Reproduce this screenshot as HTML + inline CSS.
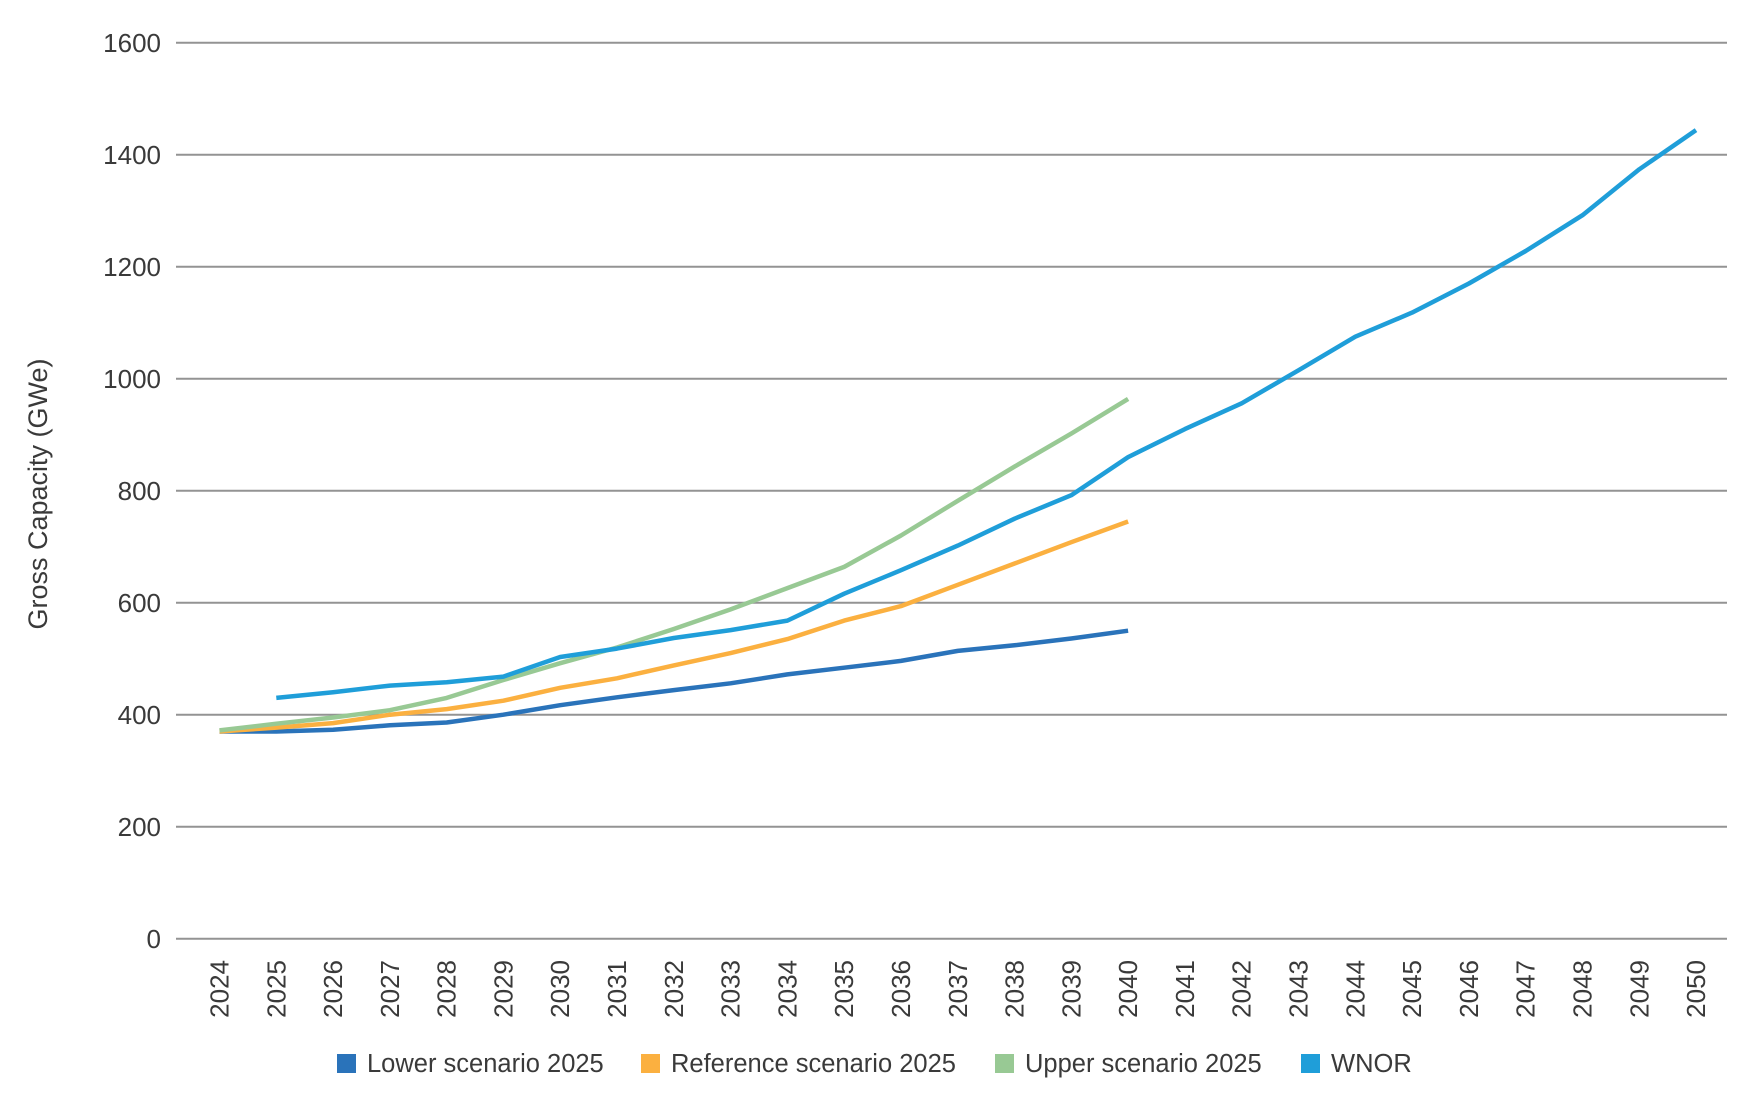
<!DOCTYPE html>
<html><head><meta charset="utf-8"><style>
html,body{margin:0;padding:0;background:#fff;}
svg{display:block;font-family:"Liberation Sans",Arial,sans-serif;}
</style></head><body>
<svg width="1764" height="1109" viewBox="0 0 1764 1109" xmlns="http://www.w3.org/2000/svg">
<g stroke="#939393" stroke-width="2">
<line x1="176" x2="1727" y1="42.7" y2="42.7"/>
<line x1="176" x2="1727" y1="154.7" y2="154.7"/>
<line x1="176" x2="1727" y1="266.7" y2="266.7"/>
<line x1="176" x2="1727" y1="378.7" y2="378.7"/>
<line x1="176" x2="1727" y1="490.7" y2="490.7"/>
<line x1="176" x2="1727" y1="602.7" y2="602.7"/>
<line x1="176" x2="1727" y1="714.7" y2="714.7"/>
<line x1="176" x2="1727" y1="826.7" y2="826.7"/>
<line x1="176" x2="1727" y1="938.7" y2="938.7"/>
</g>
<g font-size="26" fill="#3a3a3a" text-anchor="end">
<text x="161" y="52">1600</text><text x="161" y="164">1400</text><text x="161" y="276">1200</text>
<text x="161" y="388">1000</text><text x="161" y="500">800</text><text x="161" y="612">600</text>
<text x="161" y="724">400</text><text x="161" y="836">200</text><text x="161" y="948">0</text>
</g>
<text transform="translate(47,494) rotate(-90)" font-size="27" fill="#3a3a3a" text-anchor="middle">Gross Capacity (GWe)</text>
<g id="xl" font-size="26" fill="#3a3a3a" text-anchor="end"></g>
<g fill="none" stroke-width="4.5" stroke-linejoin="round" id="lines"></g>
<g font-size="25.5" fill="#3a3a3a">
<rect x="337" y="1054" width="19" height="19" fill="#2a73ba"/><text x="367" y="1072">Lower scenario 2025</text>
<rect x="641" y="1054" width="19" height="19" fill="#fbb040"/><text x="671" y="1072">Reference scenario 2025</text>
<rect x="995" y="1054" width="19" height="19" fill="#98c994"/><text x="1025" y="1072">Upper scenario 2025</text>
<rect x="1301" y="1054" width="19" height="19" fill="#1f9ed9"/><text x="1331" y="1072">WNOR</text>
</g>
<script>
var ns="http://www.w3.org/2000/svg";
function X(i){return 219.5+i*56.79;}
function Y(v){return 938.7-v*0.56;}
var xl=document.getElementById('xl');
for(var i=0;i<27;i++){var t=document.createElementNS(ns,'text');t.setAttribute('transform','translate('+(X(i)+9)+',960) rotate(-90)');t.textContent=2024+i;xl.appendChild(t);}
var S=[
["#2a73ba",0,[370,370,373,381,386,400,417,431,444,456,472,484,496,514,524,536,550]],
["#fbb040",0,[370,377,385,400,410,425,448,465,488,510,535,568,594,632,670,708,745]],
["#98c994",0,[372,384,395,408,430,462,492,520,553,588,626,664,720,782,843,902,964]],
["#1f9ed9",1,[430,440,452,458,468,503,518,537,551,568,616,658,702,750,792,860,910,956,1015,1075,1118,1170,1228,1292,1374,1444]]];
var g=document.getElementById('lines');
S.forEach(function(s){var p=s[2].map(function(v,j){return X(j+s[1]).toFixed(1)+','+Y(v).toFixed(1);}).join(' ');
var e=document.createElementNS(ns,'polyline');e.setAttribute('points',p);e.setAttribute('stroke',s[0]);g.appendChild(e);});
</script>
</svg>
</body></html>
